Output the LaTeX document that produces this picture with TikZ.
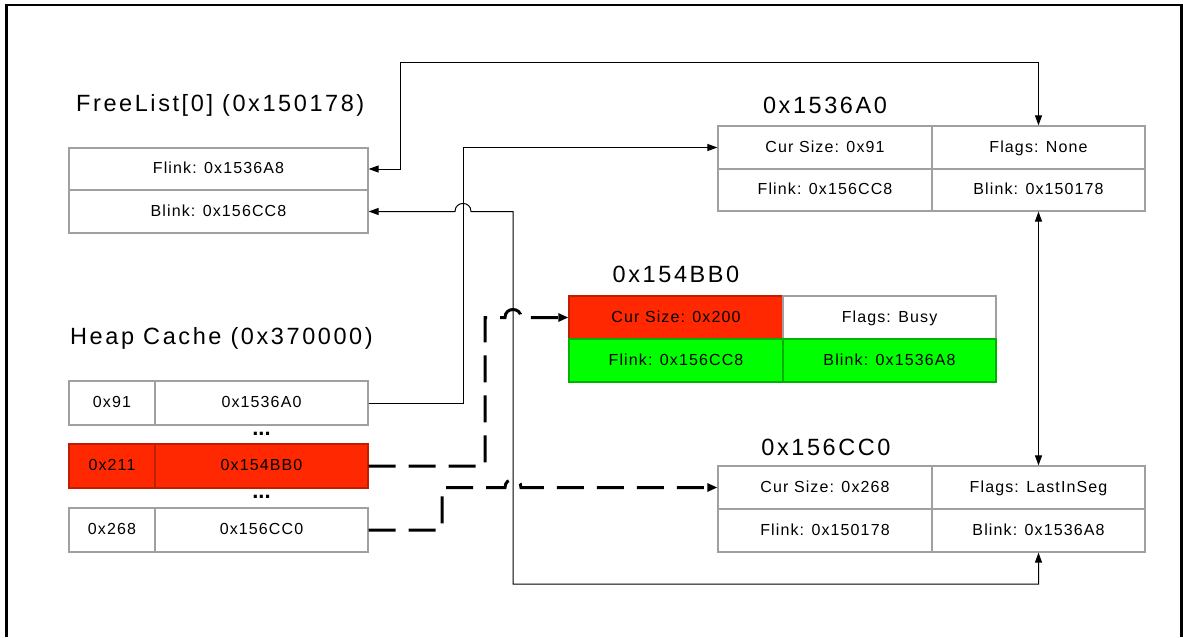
\documentclass[tikz,border=0pt]{standalone}
\usepackage{fontspec}
\usepackage{xcolor}
\usepackage{tikz}
\usetikzlibrary{arrows.meta}

\setmainfont{Liberation Sans}
\newfontfamily\cellfont[LetterSpace=7]{Liberation Sans}
\newfontfamily\titlefont[LetterSpace=11]{Liberation Sans}

\definecolor{heapred}{RGB}{255,40,0}
\definecolor{heapgreen}{RGB}{0,255,0}
\definecolor{cellgray}{RGB}{160,160,160}

\begin{document}
\begin{tikzpicture}[x=1pt, y=-1pt,
    cell/.style={rectangle, draw=cellgray, line width=1.2pt, inner sep=0pt,
        text height=12pt, text depth=3pt,
        minimum height=43pt, font=\cellfont\fontsize{16}{18}\selectfont},
    redcell/.style={cell, fill=heapred, draw=heapred!75!black},
    greencell/.style={cell, fill=heapgreen, draw=heapgreen!70!black},
    title/.style={inner sep=0pt, font=\titlefont\fontsize{23.5}{26}\selectfont},
    dots/.style={inner sep=0pt, font=\bfseries\fontsize{22}{24}\selectfont},
    link/.style={line width=1pt, >={Triangle[length=10pt,width=7pt]}},
    dashlink/.style={line width=3pt, dash pattern=on 27pt off 13pt,
        >={Triangle[length=10pt,width=8pt]}}]
    \useasboundingbox (0,0) rectangle (1183,637);
    \draw[line width=2.5pt] (6.5,637) -- (6.5,5) -- (1181.5,5) -- (1181.5,637);

    % FreeList[0]
    \node[title, anchor=west] at (76,105) (fltitle) {FreeList[0] (0x150178)};
    \node[cell, minimum width=299pt, minimum height=42pt] at (218.5,169) (flFlink) {Flink: 0x1536A8};
    \node[cell, minimum width=299pt] at (218.5,211.5) (flBlink) {Blink: 0x156CC8};

    % heap cache
    \node[title, anchor=west] at (70,338) (hctitle) {Heap Cache (0x370000)};
    \node[cell, minimum width=86pt, minimum height=44pt] at (112,403) (hcA_size) {0x91};
    \node[cell, minimum width=213pt, minimum height=44pt] at (261.5,403) (hcA_addr) {0x1536A0};
    \node[dots] at (261.5,434) (dotsA) {...};
    \node[redcell, minimum width=86pt, minimum height=44pt] at (112,466) (hcB_size) {0x211};
    \node[redcell, minimum width=213pt, minimum height=44pt] at (261.5,466) (hcB_addr) {0x154BB0};
    \node[dots] at (261.5,497) (dotsB) {...};
    \node[cell, minimum width=86pt, minimum height=44pt] at (112,530) (hcC_size) {0x268};
    \node[cell, minimum width=213pt, minimum height=44pt] at (261.5,530) (hcC_addr) {0x156CC0};

    % chunk 0x1536A0
    \node[title] at (825,105) (atitle) {0x1536A0};
    \node[cell, minimum width=214pt] at (825,147.5) (aCur) {Cur Size: 0x91};
    \node[cell, minimum width=213pt] at (1038.5,147.5) (aFlags) {Flags: None};
    \node[cell, minimum width=214pt, minimum height=42pt] at (825,190) (aFlink) {Flink: 0x156CC8};
    \node[cell, minimum width=213pt, minimum height=42pt] at (1038.5,190) (aBlink) {Blink: 0x150178};

    % chunk 0x154BB0
    \node[title] at (676,274) (btitle) {0x154BB0};
    \node[redcell, minimum width=214pt] at (676,317.5) (bCur) {Cur Size: 0x200};
    \node[cell, minimum width=213pt] at (889.5,317.5) (bFlags) {Flags: Busy};
    \node[greencell, minimum width=214pt] at (676,360.5) (bFlink) {Flink: 0x156CC8};
    \node[greencell, minimum width=213pt] at (889.5,360.5) (bBlink) {Blink: 0x1536A8};

    % chunk 0x156CC0
    \node[title] at (826,447) (ctitle) {0x156CC0};
    \node[cell, minimum width=214pt] at (825,487.5) (cCur) {Cur Size: 0x268};
    \node[cell, minimum width=213pt] at (1038.5,487.5) (cFlags) {Flags: LastInSeg};
    \node[cell, minimum width=214pt] at (825,530.5) (cFlink) {Flink: 0x150178};
    \node[cell, minimum width=213pt] at (1038.5,530.5) (cBlink) {Blink: 0x1536A8};

    \coordinate (topbend) at (400,62);

    \draw[link, <->] (flFlink.east) -| (topbend) -| (aFlags.north);
    \draw[link, ->] (hcA_addr.east) -- ++(95,0) |- (aCur.west);
    \draw[link, <->] (flBlink.east) -- (455,211.5)
        .. controls (455,200.8) and (471,200.8) .. (471,211.5)
        -- (513,211.5) -- (513,584) -| (cBlink.south);
    \draw[link, <->] (aBlink.south) -- (cFlags.north);

    \draw[dashlink, ->] (hcB_addr.east) -- (485,466) -- (485,317.5) -- (505,317.5)
        .. controls (505,306.8) and (521,306.8) .. (521,317.5) -- (bCur.west);
    \draw[dashlink, ->] (hcC_addr.east) -- (442,530) -- (442,487.5) -- (505,487.5)
        .. controls (505,476.8) and (521,476.8) .. (521,487.5) -- (cCur.west);
\end{tikzpicture}
\end{document}
